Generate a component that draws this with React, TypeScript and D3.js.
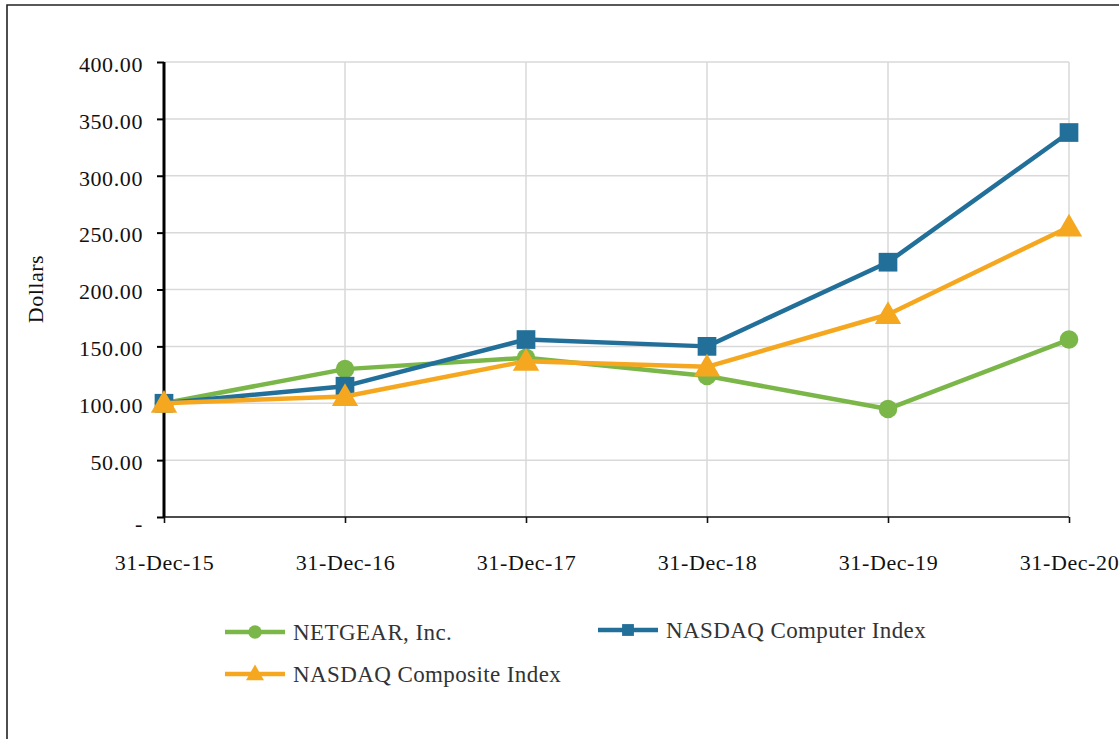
import * as d3 from "d3";
import React, { useEffect, useRef } from "react";

const dates = ["31-Dec-15", "31-Dec-16", "31-Dec-17", "31-Dec-18", "31-Dec-19", "31-Dec-20"];
const netgear = [100, 130, 140, 124, 95, 156];
const nasdaqComputer = [100, 115, 156, 150, 224, 338];
const nasdaqComposite = [100, 106, 137, 132, 178, 255];
const yTicks = [0, 50, 100, 150, 200, 250, 300, 350, 400];

const series = [
  { name: "NETGEAR, Inc.", values: netgear, color: "#7ab648", symbol: d3.symbolCircle },
  { name: "NASDAQ Computer Index", values: nasdaqComputer, color: "#22709a", symbol: d3.symbolSquare },
  { name: "NASDAQ Composite Index", values: nasdaqComposite, color: "#f5a81f", symbol: d3.symbolTriangle },
];

const App = () => {
  const svgRef = useRef<SVGSVGElement>(null);

  useEffect(() => {
    const width = 1119;
    const height = 739;
    const svg = d3.select(svgRef.current);
    svg.selectAll("*").remove();
    svg.attr("width", width).attr("height", height).style("background", "#fff");

    const font = "'Liberation Serif', 'Times New Roman', serif";

    // outer frame
    svg
      .append("path")
      .attr("d", `M7,${height + 5} L7,5 L${width + 5},5`)
      .attr("fill", "none")
      .attr("stroke", "#222")
      .attr("stroke-width", 1.6);

    const left = 164;
    const right = 1069;
    const top = 62;
    const bottom = 517;

    const x = d3.scalePoint<number>().domain(d3.range(dates.length)).range([left, right]);
    const y = d3.scaleLinear().domain([0, 400]).range([bottom, top]);

    // gridlines
    const grid = svg.append("g");
    grid
      .selectAll(".hg")
      .data(yTicks.filter((d) => d > 0))
      .join("line")
      .attr("x1", left)
      .attr("x2", right)
      .attr("y1", (d) => y(d))
      .attr("y2", (d) => y(d))
      .attr("stroke", "#d9d9d9")
      .attr("stroke-width", 1.5);
    grid
      .selectAll(".vg")
      .data(d3.range(1, dates.length))
      .join("line")
      .attr("x1", (i) => x(i)!)
      .attr("x2", (i) => x(i)!)
      .attr("y1", top)
      .attr("y2", bottom)
      .attr("stroke", "#d9d9d9")
      .attr("stroke-width", 1.5);

    // x axis
    const xAxis = d3
      .axisBottom(x)
      .tickSize(6)
      .tickPadding(31)
      .tickFormat((i) => dates[i as number]);
    const gx = svg.append("g").attr("transform", `translate(0,${bottom})`).call(xAxis);
    gx.select(".domain").attr("d", `M${left},0H${right}`).attr("stroke", "#111").attr("stroke-width", 1.6);
    gx.selectAll(".tick line").attr("stroke", "#111").attr("stroke-width", 1.6);
    gx.selectAll(".tick text")
      .attr("font-family", font)
      .attr("font-size", 22)
      .attr("letter-spacing", 0.6)
      .attr("fill", "#111");

    // y axis
    const yAxis = d3
      .axisLeft(y)
      .tickValues(yTicks)
      .tickSize(7)
      .tickPadding(14)
      .tickFormat((d) => ((d as number) === 0 ? "-" : d3.format(".2f")(d as number)));
    const gy = svg.append("g").attr("transform", `translate(${left},0)`).call(yAxis);
    gy.select(".domain").attr("d", `M0,${top}V${bottom}`).attr("stroke", "#000").attr("stroke-width", 3);
    gy.selectAll(".tick line").attr("stroke", "#000").attr("stroke-width", 2);
    gy.selectAll(".tick text")
      .attr("font-family", font)
      .attr("font-size", 22)
      .attr("letter-spacing", 0.6)
      .attr("fill", "#111")
      .attr("dy", (d) => ((d as number) === 0 ? "0.6em" : "0.42em"));

    svg
      .append("text")
      .attr("transform", `translate(43,289) rotate(-90)`)
      .attr("text-anchor", "middle")
      .attr("font-family", font)
      .attr("font-size", 22)
      .attr("letter-spacing", 0.5)
      .attr("fill", "#111")
      .text("Dollars");

    // series
    const line = d3
      .line<number>()
      .x((d, i) => x(i)!)
      .y((d) => y(d));

    series.forEach((s) => {
      const g = svg.append("g");
      g.append("path")
        .attr("d", line(s.values))
        .attr("fill", "none")
        .attr("stroke", s.color)
        .attr("stroke-width", 4.5)
        .attr("stroke-linejoin", "round");
      const size = s.symbol === d3.symbolSquare ? 350 : s.symbol === d3.symbolTriangle ? 300 : 270;
      g.selectAll("path.m")
        .data(s.values)
        .join("path")
        .attr("class", "m")
        .attr("transform", (d, i) => `translate(${x(i)},${y(d) + (s.symbol === d3.symbolTriangle ? 2 : 0)})`)
        .attr("d", d3.symbol(s.symbol, size)())
        .attr("fill", s.color);
    });

    // legend
    const legendPos = [
      { x: 225, y: 632 },
      { x: 598, y: 630 },
      { x: 225, y: 674 },
    ];
    series.forEach((s, i) => {
      const p = legendPos[i];
      const g = svg.append("g").attr("transform", `translate(${p.x},${p.y})`);
      g.append("line")
        .attr("x1", 0)
        .attr("x2", 60)
        .attr("stroke", s.color)
        .attr("stroke-width", 4.5);
      g.append("path")
        .attr("transform", `translate(30,${s.symbol === d3.symbolTriangle ? 1 : 0})`)
        .attr("d", d3.symbol(s.symbol, 140)())
        .attr("fill", s.color);
      g.append("text")
        .attr("x", 68)
        .attr("dy", "0.35em")
        .attr("font-family", font)
        .attr("font-size", 23)
        .attr("letter-spacing", 0.4)
        .attr("fill", "#333")
        .text(s.name);
    });
  }, []);

  return <svg ref={svgRef} style={{ position: "absolute", left: 0, top: 0 }}></svg>;
};

export default App;
